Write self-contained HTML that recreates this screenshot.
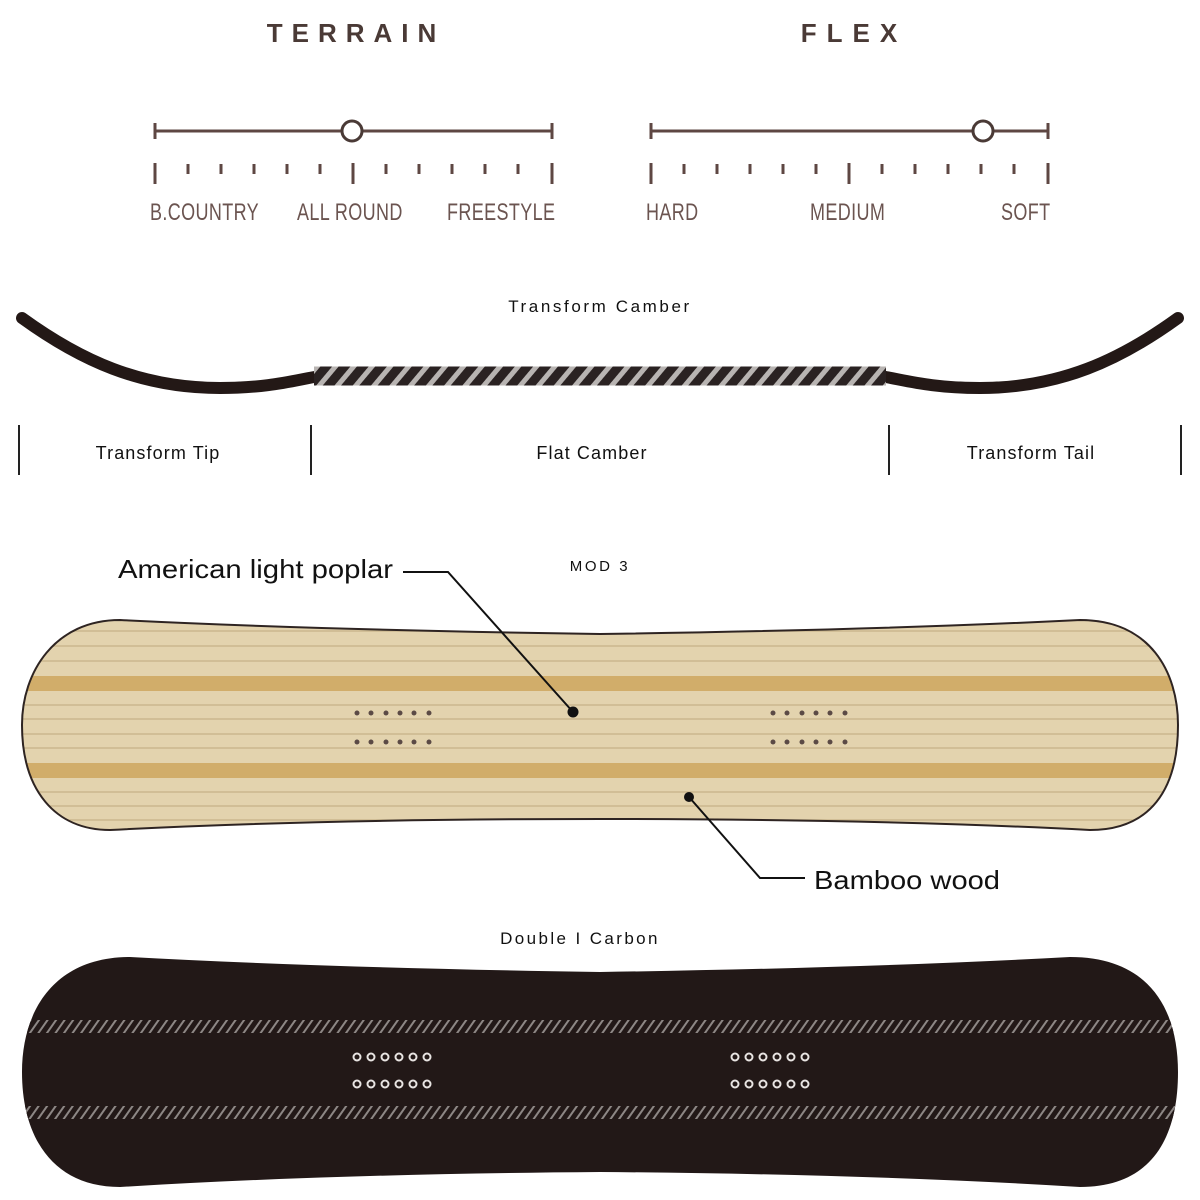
<!DOCTYPE html>
<html><head><meta charset="utf-8"><style>
body{margin:0;background:#fff;width:1200px;height:1200px;overflow:hidden}
svg{display:block}
</style></head><body>
<svg width="1200" height="1200" viewBox="0 0 1200 1200" xmlns="http://www.w3.org/2000/svg">
<defs>
<pattern id="hatch" width="14" height="14" patternUnits="userSpaceOnUse" patternTransform="rotate(40)">
<rect width="14" height="14" fill="#2a2222"/><rect width="5" height="14" fill="#b8b4b2"/>
</pattern>
<pattern id="hatch2" width="7" height="7" patternUnits="userSpaceOnUse" patternTransform="rotate(35)">
<rect width="7" height="7" fill="#221817"/><rect width="2" height="7" fill="#8d8785"/>
</pattern>
<clipPath id="wood"><path id="wp" d="M120,620 Q320,630 600,634 Q880,630 1080,620 C1150,620 1178,672 1178,725 C1178,790 1150,830 1090,830 Q880,819 600,819 Q320,819 110,830 C55,830 22,790 22,725 C22,672 55,620 120,620 Z"/></clipPath>
</defs>
<g font-family="Liberation Sans, sans-serif" fill="#4a3a36">
<text x="356" y="42" text-anchor="middle" font-size="26" font-weight="bold" letter-spacing="9">TERRAIN</text>
<text x="854" y="42" text-anchor="middle" font-size="26" font-weight="bold" letter-spacing="10">FLEX</text>
</g>
<g stroke="#5e4743" stroke-width="3">
<line x1="155" y1="131" x2="552" y2="131"/><line x1="155" y1="123" x2="155" y2="139"/><line x1="552" y1="123" x2="552" y2="139"/>
<line x1="651" y1="131" x2="1048" y2="131"/><line x1="651" y1="123" x2="651" y2="139"/><line x1="1048" y1="123" x2="1048" y2="139"/>
</g>
<circle cx="352" cy="131" r="10" fill="#fff" stroke="#4a3a36" stroke-width="3"/>
<circle cx="983" cy="131" r="10" fill="#fff" stroke="#4a3a36" stroke-width="3"/>
<g stroke="#5e4743" stroke-width="3">
<line x1="155" y1="163" x2="155" y2="184"/><line x1="188" y1="164" x2="188" y2="174"/><line x1="221" y1="164" x2="221" y2="174"/><line x1="254" y1="164" x2="254" y2="174"/><line x1="287" y1="164" x2="287" y2="174"/><line x1="320" y1="164" x2="320" y2="174"/><line x1="353" y1="163" x2="353" y2="184"/><line x1="386" y1="164" x2="386" y2="174"/><line x1="419" y1="164" x2="419" y2="174"/><line x1="452" y1="164" x2="452" y2="174"/><line x1="485" y1="164" x2="485" y2="174"/><line x1="518" y1="164" x2="518" y2="174"/><line x1="552" y1="163" x2="552" y2="184"/>
<line x1="651" y1="163" x2="651" y2="184"/><line x1="684" y1="164" x2="684" y2="174"/><line x1="717" y1="164" x2="717" y2="174"/><line x1="750" y1="164" x2="750" y2="174"/><line x1="783" y1="164" x2="783" y2="174"/><line x1="816" y1="164" x2="816" y2="174"/><line x1="849" y1="163" x2="849" y2="184"/><line x1="882" y1="164" x2="882" y2="174"/><line x1="915" y1="164" x2="915" y2="174"/><line x1="948" y1="164" x2="948" y2="174"/><line x1="981" y1="164" x2="981" y2="174"/><line x1="1014" y1="164" x2="1014" y2="174"/><line x1="1048" y1="163" x2="1048" y2="184"/>
</g>
<g font-family="Liberation Sans, sans-serif" fill="#6b5450" font-size="24">
<text transform="translate(150,220) scale(0.75,1)" letter-spacing="0.5">B.COUNTRY</text>
<text transform="translate(297,220) scale(0.75,1)" letter-spacing="0.5">ALL ROUND</text>
<text transform="translate(447,220) scale(0.75,1)" letter-spacing="0.5">FREESTYLE</text>
<text transform="translate(646,220) scale(0.75,1)" letter-spacing="0.5">HARD</text>
<text transform="translate(810,220) scale(0.75,1)" letter-spacing="0.5">MEDIUM</text>
<text transform="translate(1001,220) scale(0.75,1)" letter-spacing="0.5">SOFT</text>
</g>
<g font-family="Liberation Sans, sans-serif" fill="#111" text-anchor="middle">
<text x="600" y="312" font-size="17" letter-spacing="2.6">Transform Camber</text>
<text x="158" y="459" font-size="18" letter-spacing="1.1">Transform Tip</text>
<text x="592" y="459" font-size="18" letter-spacing="1.1">Flat Camber</text>
<text x="1031" y="459" font-size="18" letter-spacing="1.1">Transform Tail</text>
<text x="600" y="571" font-size="15" letter-spacing="2.6">MOD 3</text>
<text x="580" y="944" font-size="17" letter-spacing="2.4">Double I Carbon</text>
</g>
<path d="M22,318 C80,360 140,388 220,388 C270,388 295,380 320,376 L880,376 C905,380 930,388 980,388 C1060,388 1120,360 1178,318" fill="none" stroke="#231816" stroke-width="12" stroke-linecap="round"/>
<path d="M314,376 L886,376" stroke="url(#hatch)" stroke-width="19"/>
<g stroke="#222" stroke-width="2">
<line x1="19" y1="425" x2="19" y2="475"/><line x1="311" y1="425" x2="311" y2="475"/><line x1="889" y1="425" x2="889" y2="475"/><line x1="1181" y1="425" x2="1181" y2="475"/>
</g>
<g clip-path="url(#wood)">
<rect x="0" y="600" width="1200" height="240" fill="#e3d3ae"/>
<g stroke="#cbb88d" stroke-width="1.5">
<line x1="0" y1="631" x2="1200" y2="631"/><line x1="0" y1="646" x2="1200" y2="646"/><line x1="0" y1="661" x2="1200" y2="661"/><line x1="0" y1="705" x2="1200" y2="705"/><line x1="0" y1="719" x2="1200" y2="719"/><line x1="0" y1="734" x2="1200" y2="734"/><line x1="0" y1="748" x2="1200" y2="748"/><line x1="0" y1="792" x2="1200" y2="792"/><line x1="0" y1="806" x2="1200" y2="806"/><line x1="0" y1="820" x2="1200" y2="820"/>
</g>
<rect x="0" y="676" width="1200" height="15" fill="#d1ad6a"/>
<rect x="0" y="763" width="1200" height="15" fill="#d1ad6a"/>
</g>
<use href="#wp" fill="none" stroke="#2e2422" stroke-width="2"/>
<g fill="#5b4a45">
<circle cx="357" cy="713" r="2.5"/><circle cx="371" cy="713" r="2.5"/><circle cx="386" cy="713" r="2.5"/><circle cx="400" cy="713" r="2.5"/><circle cx="414" cy="713" r="2.5"/><circle cx="429" cy="713" r="2.5"/>
<circle cx="357" cy="742" r="2.5"/><circle cx="371" cy="742" r="2.5"/><circle cx="386" cy="742" r="2.5"/><circle cx="400" cy="742" r="2.5"/><circle cx="414" cy="742" r="2.5"/><circle cx="429" cy="742" r="2.5"/>
<circle cx="773" cy="713" r="2.5"/><circle cx="787" cy="713" r="2.5"/><circle cx="802" cy="713" r="2.5"/><circle cx="816" cy="713" r="2.5"/><circle cx="830" cy="713" r="2.5"/><circle cx="845" cy="713" r="2.5"/>
<circle cx="773" cy="742" r="2.5"/><circle cx="787" cy="742" r="2.5"/><circle cx="802" cy="742" r="2.5"/><circle cx="816" cy="742" r="2.5"/><circle cx="830" cy="742" r="2.5"/><circle cx="845" cy="742" r="2.5"/>
</g>
<g stroke="#111" stroke-width="2" fill="none">
<polyline points="403,572 448,572 573,712"/>
<polyline points="689,797 760,878 805,878"/>
</g>
<circle cx="573" cy="712" r="5.5" fill="#111"/>
<circle cx="689" cy="797" r="5" fill="#111"/>
<g font-family="Liberation Sans, sans-serif" fill="#111" font-size="26">
<text x="118" y="578" textLength="275" lengthAdjust="spacingAndGlyphs">American light poplar</text>
<text x="814" y="889" textLength="186" lengthAdjust="spacingAndGlyphs">Bamboo wood</text>
</g>
<clipPath id="blk"><path id="bp" d="M130,957 Q330,968 600,972 Q870,968 1070,957 C1150,957 1178,1010 1178,1072 C1178,1140 1150,1187 1080,1187 Q870,1174 600,1172 Q330,1174 120,1187 C55,1187 22,1140 22,1072 C22,1010 55,957 130,957 Z"/></clipPath>
<use href="#bp" fill="#221817"/>
<g clip-path="url(#blk)">
<rect x="0" y="1020" width="1200" height="13" fill="url(#hatch2)"/>
<rect x="0" y="1106" width="1200" height="13" fill="url(#hatch2)"/>
</g>
<g fill="none" stroke="#e8e4e2" stroke-width="2">
<circle cx="357" cy="1057" r="3.5"/><circle cx="371" cy="1057" r="3.5"/><circle cx="385" cy="1057" r="3.5"/><circle cx="399" cy="1057" r="3.5"/><circle cx="413" cy="1057" r="3.5"/><circle cx="427" cy="1057" r="3.5"/>
<circle cx="357" cy="1084" r="3.5"/><circle cx="371" cy="1084" r="3.5"/><circle cx="385" cy="1084" r="3.5"/><circle cx="399" cy="1084" r="3.5"/><circle cx="413" cy="1084" r="3.5"/><circle cx="427" cy="1084" r="3.5"/>
<circle cx="735" cy="1057" r="3.5"/><circle cx="749" cy="1057" r="3.5"/><circle cx="763" cy="1057" r="3.5"/><circle cx="777" cy="1057" r="3.5"/><circle cx="791" cy="1057" r="3.5"/><circle cx="805" cy="1057" r="3.5"/>
<circle cx="735" cy="1084" r="3.5"/><circle cx="749" cy="1084" r="3.5"/><circle cx="763" cy="1084" r="3.5"/><circle cx="777" cy="1084" r="3.5"/><circle cx="791" cy="1084" r="3.5"/><circle cx="805" cy="1084" r="3.5"/>
</g>
</svg>
</body></html>
